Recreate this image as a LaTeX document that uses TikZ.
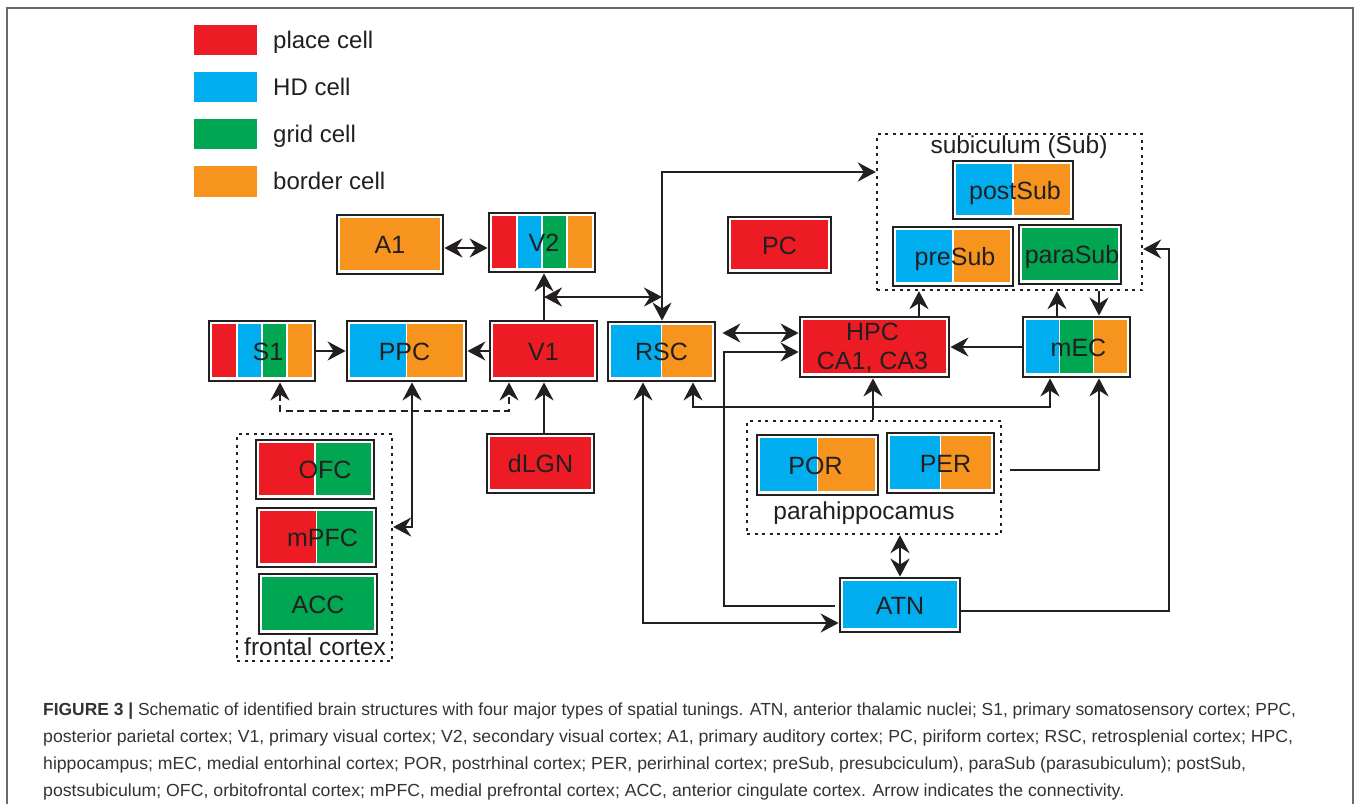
\documentclass[tikz,border=0pt]{standalone}
\usepackage{fontspec}
\setmainfont{Liberation Sans}
\usepackage{graphicx}
\usetikzlibrary{arrows.meta}
\definecolor{cred}{HTML}{ED1C24}
\definecolor{cblue}{HTML}{00AEEF}
\definecolor{cgreen}{HTML}{00A651}
\definecolor{corange}{HTML}{F7941D}
\definecolor{ink}{HTML}{231F20}
\definecolor{captxt}{HTML}{333333}
\definecolor{framec}{HTML}{6A6A6A}
\tikzset{
  cbox/.style={draw=ink, line width=2.8pt, inner sep=0pt},
  lbl/.style={text=ink, font=\fontsize{25}{30}\selectfont, inner sep=0pt, text height=18pt, text depth=0pt},
  grpbox/.style={draw=ink, line width=2.3pt, dash pattern=on 3pt off 4.5pt, inner sep=0pt},
  grplbl/.style={text=ink, font=\fontsize{24.5}{29}\selectfont, inner sep=0pt},
  legt/.style={text=ink, font=\fontsize{24}{29}\selectfont, inner sep=0pt, anchor=base west},
  tipa/.tip={Stealth[length=18pt,width=19pt,inset=6pt]},
  arr/.style={draw=ink, line width=2.6pt, -tipa},
  darr/.style={draw=ink, line width=2.6pt, tipa-tipa},
  captext/.style={text=captxt, font=\fontsize{17.5}{27}\selectfont, inner sep=0pt, anchor=base west},
}
% name, x1, y1, x2, y2, number of stripes, colours, label, label options
\newcommand\cellbox[9]{%
  \pgfmathsetmacro\cbw{(#4-#2-5.6)/#6}%
  \foreach \cc [count=\ii] in {#7}{%
    \pgfmathsetmacro\xa{#2+2.8+(\ii-1)*\cbw+(\ii>1?0.8:0)}%
    \pgfmathsetmacro\xb{#2+2.8+\ii*\cbw-(\ii<#6?0.8:0)}%
    \fill[fill=\cc] (\xa,#3+2.8) rectangle (\xb,#5-3.8);
  }%
  \node[cbox, minimum width={(#4-#2)*1pt}, minimum height={(#5-#3)*1pt}] (#1) at ({(#2+#4)/2},{(#3+#5)/2}) {};
  \node[lbl,#9] (#1-t) at (#1.center) {#8};
}
\begin{document}
\begin{tikzpicture}[x=1pt,y=-1pt]
\useasboundingbox (0,0) rectangle (1358,804);
% frame
\draw[framec, line width=2pt] (7,804) -- (7,8) -- (1353,8) -- (1353,804);

% legend
\fill[cred] (194,25) rectangle (257,55);
\fill[cblue] (194,72) rectangle (257,102);
\fill[cgreen] (194,119) rectangle (257,149);
\fill[corange] (194,166) rectangle (257,197);
\node[legt] (lg1) at (273,48) {place cell};
\node[legt] (lg2) at (273,95) {HD cell};
\node[legt] (lg3) at (273,142) {grid cell};
\node[legt] (lg4) at (273,189) {border cell};

% group boxes
\node[grpbox, minimum width=265pt, minimum height=156pt] (Sub) at (1009.5,212) {};
\node[grplbl] (Sub-t) at (1019,147) {subiculum (Sub)};
\node[grpbox, minimum width=155pt, minimum height=227pt] (FC) at (314.5,547.5) {};
\node[grplbl] (FC-t) at (315,647) {frontal cortex};
\node[grpbox, minimum width=254pt, minimum height=113pt] (Para) at (874,477.5) {};
\node[grplbl] (Para-t) at (864,513) {parahippocamus};

% cell boxes
\cellbox{A1}{337}{215}{443}{274}{1}{corange}{A1}{}
\cellbox{V2}{489}{213}{595}{272}{4}{cred,cblue,cgreen,corange}{V2}{xshift=2pt}
\cellbox{PC}{728}{217}{831}{273}{1}{cred}{PC}{}
\cellbox{S1}{209}{321}{315}{381}{4}{cred,cblue,cgreen,corange}{S1}{xshift=6pt}
\cellbox{PPC}{347}{321}{466}{381}{2}{cblue,corange}{PPC}{xshift=-2pt}
\cellbox{V1}{490}{321}{597}{381}{1}{cred}{V1}{}
\cellbox{RSC}{608}{322}{715}{381}{2}{cblue,corange}{RSC}{}
\cellbox{HPC}{800}{317}{949}{377}{1}{cred}{HPC}{yshift=16pt,xshift=-2pt}
\node[lbl, yshift=-13pt, xshift=-2pt] (HPC-t2) at (HPC.center) {CA1, CA3};
\cellbox{mEC}{1023}{317}{1130}{377}{3}{cblue,cgreen,corange}{mEC}{xshift=2pt}
\cellbox{postSub}{953}{161}{1073}{219}{2}{cblue,corange}{postSub}{xshift=2pt}
\cellbox{preSub}{893}{227}{1013}{286}{2}{cblue,corange}{preSub}{xshift=2pt}
\cellbox{paraSub}{1019}{225}{1121}{284}{1}{cgreen}{paraSub}{xshift=2pt}
\cellbox{OFC}{256}{440}{374}{499}{2}{cred,cgreen}{OFC}{xshift=10pt}
\cellbox{mPFC}{257}{508}{376}{567}{2}{cred,cgreen}{mPFC}{xshift=6pt}
\cellbox{ACC}{259}{574}{377}{634}{1}{cgreen}{ACC}{}
\cellbox{dLGN}{487}{434}{594}{493}{1}{cred}{dLGN}{}
\cellbox{POR}{757}{435}{878}{495}{2}{cblue,corange}{POR}{xshift=-2pt}
\cellbox{PER}{887}{433}{994}{493}{2}{cblue,corange}{PER}{xshift=5pt}
\cellbox{ATN}{840}{578}{960}{632}{1}{cblue}{ATN}{}

% bend points
\coordinate (aa) at (0,248);
\coordinate (pV) at (544,297);
\coordinate (pR) at (662,297);
\coordinate (rs) at (662,172);
\coordinate (dl) at (280,411);
\coordinate (dr) at (509,411);
\coordinate (pf) at (412,527);
\coordinate (rh) at (0,333);
\coordinate (ah1) at (724,606);
\coordinate (ah2) at (724,352);
\coordinate (ar) at (643,623);
\coordinate (rm1) at (693,407);
\coordinate (rm2) at (1050,407);
\coordinate (ph) at (873,0);
\coordinate (hs) at (919,0);
\coordinate (ms) at (1057,0);
\coordinate (sm) at (1099,0);
\coordinate (pe) at (1099,470);
\coordinate (as1) at (1169,611);
\coordinate (as2) at (1169,249);

% connectors
\draw[darr] (A1.east |- aa) -- (V2.west |- aa);
\draw[arr] (V1.north -| pV) -- (V2.south -| pV);
\draw[darr] (pV) -- (pR);
\draw[darr] (RSC.north -| rs) -- (rs) -- (Sub.west |- rs);
\draw[arr] (S1.east) -- (PPC.west);
\draw[arr] (V1.west) -- (PPC.east);
\draw[darr, dash pattern=on 7pt off 4.5pt] (S1.south -| dl) -- (dl) -- (dr) -- (V1.south -| dr);
\draw[darr] (PPC.south -| pf) -- (pf) -- (FC.east |- pf);
\draw[arr] (dLGN.north -| pV) -- (V1.south -| pV);
\draw[darr, shorten <=6pt] (RSC.east |- rh) -- (HPC.west |- rh);
\draw[arr, shorten <=4pt] (ATN.west |- ah1) -- (ah1) -- (ah2) -- (HPC.west |- ah2);
\draw[darr] (ATN.west |- ar) -- (ar) -- (RSC.south -| ar);
\draw[darr] (RSC.south -| rm1) -- (rm1) -- (rm2) -- (mEC.south -| rm2);
\draw[arr] (Para.north -| ph) -- (HPC.south -| ph);
\draw[arr] (HPC.north -| hs) -- (Sub.south -| hs);
\draw[arr] (mEC.north -| ms) -- (Sub.south -| ms);
\draw[arr] (Sub.south -| sm) -- (mEC.north -| sm);
\draw[arr] (mEC.west) -- (HPC.east |- mEC.west);
\draw[arr, shorten <=15pt] (PER.east |- pe) -- (pe) -- (mEC.south -| pe);
\draw[darr] (ATN.north) -- (Para.south -| ATN.north);
\draw[arr] (ATN.east |- as1) -- (as1) -- (as2) -- (Sub.east |- as2);

% caption
\node[captext] (cap1) at (43,715) {\resizebox{1253pt}{\height}{\textbf{FIGURE 3 |} Schematic of identified brain structures with four major types of spatial tunings. ATN, anterior thalamic nuclei; S1, primary somatosensory cortex; PPC,}};
\node[captext] (cap2) at (43,742) {\resizebox{1250pt}{\height}{posterior parietal cortex; V1, primary visual cortex; V2, secondary visual cortex; A1, primary auditory cortex; PC, piriform cortex; RSC, retrosplenial cortex; HPC,}};
\node[captext] (cap3) at (43,769) {\resizebox{1203pt}{\height}{hippocampus; mEC, medial entorhinal cortex; POR, postrhinal cortex; PER, perirhinal cortex; preSub, presubciculum), paraSub (parasubiculum); postSub,}};
\node[captext] (cap4) at (43,796) {\resizebox{1081pt}{\height}{postsubiculum; OFC, orbitofrontal cortex; mPFC, medial prefrontal cortex; ACC, anterior cingulate cortex. Arrow indicates the connectivity.}};
\end{tikzpicture}
\end{document}
